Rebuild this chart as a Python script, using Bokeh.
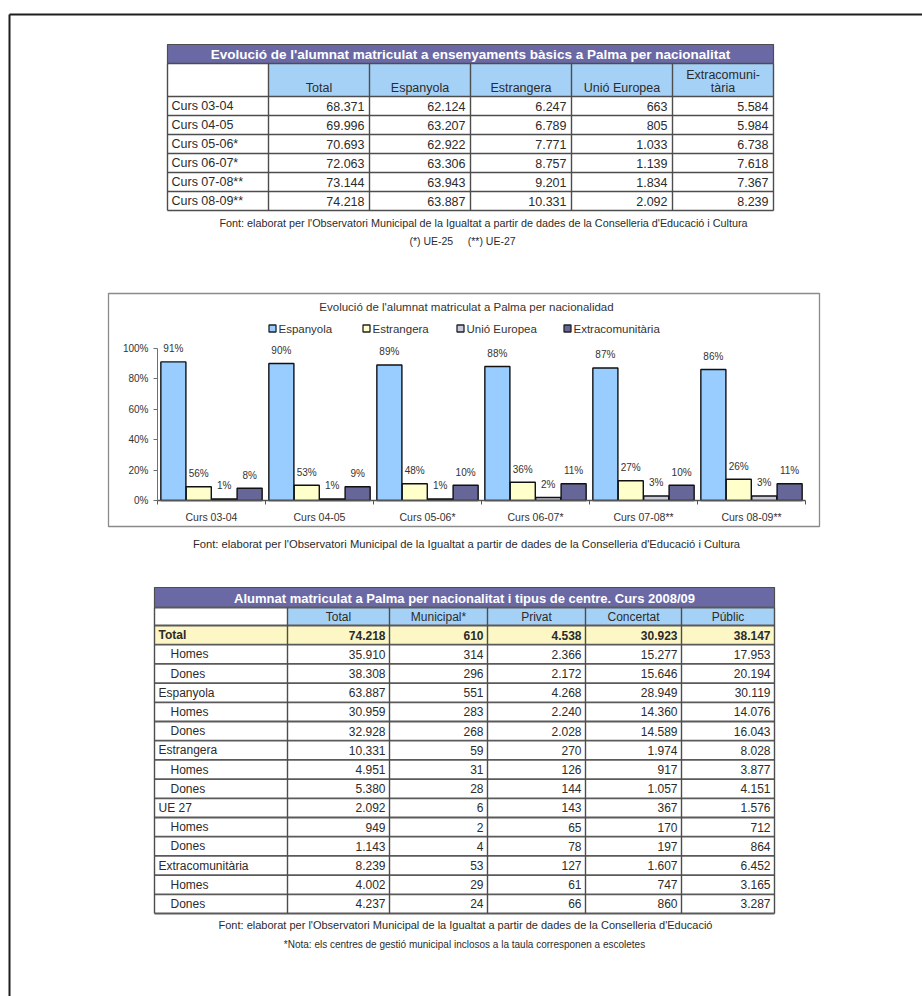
from bokeh.plotting import figure
from bokeh.models import Range1d, LinearAxis, FixedTicker, PrintfTickFormatter
from bokeh.core.properties import value
from bokeh.embed import file_html
from bokeh.resources import INLINE

# ---------------- data ----------------
t1_title = "Evolució de l'alumnat matriculat a ensenyaments bàsics a Palma per nacionalitat"
t1_head = ["Total", "Espanyola", "Estrangera", "Unió Europea", "Extracomunitària"]
t1_head_lines = [["Total"], ["Espanyola"], ["Estrangera"], ["Unió Europea"], ["Extracomuni-", "tària"]]
t1_rows = ["Curs 03-04", "Curs 04-05", "Curs 05-06*", "Curs 06-07*", "Curs 07-08**", "Curs 08-09**"]
t1_total = [68371, 69996, 70693, 72063, 73144, 74218]
t1_espanyola = [62124, 63207, 62922, 63306, 63943, 63887]
t1_estrangera = [6247, 6789, 7771, 8757, 9201, 10331]
t1_ue = [663, 805, 1033, 1139, 1834, 2092]
t1_extra = [5584, 5984, 6738, 7618, 7367, 8239]
t1_source = ("Font: elaborat per l'Observatori Municipal de la Igualtat a partir de dades "
             "de la Conselleria d'Educació i Cultura")
t1_note = "(*) UE-25\u00a0\u00a0\u00a0\u00a0 (**) UE-27"

chart_title = "Evolució de l'alumnat matriculat a Palma per nacionalidad"
chart_series = ["Espanyola", "Estrangera", "Unió Europea", "Extracomunitària"]
chart_cats = ["Curs 03-04", "Curs 04-05", "Curs 05-06*", "Curs 06-07*", "Curs 07-08**", "Curs 08-09**"]
pct_espanyola = [91, 90, 89, 88, 87, 86]
pct_estrangera = [9, 10, 11, 12, 13, 14]
pct_ue = [1, 1, 1, 2, 3, 3]
pct_extra = [8, 9, 10, 11, 10, 11]
lbl_espanyola = ["91%", "90%", "89%", "88%", "87%", "86%"]
lbl_estrangera = ["56%", "53%", "48%", "36%", "27%", "26%"]
lbl_ue = ["1%", "1%", "1%", "2%", "3%", "3%"]
lbl_extra = ["8%", "9%", "10%", "11%", "10%", "11%"]
y_ticks = [0, 20, 40, 60, 80, 100]
chart_source = t1_source

t2_title = "Alumnat matriculat a Palma per nacionalitat i tipus de centre. Curs 2008/09"
t2_head = ["Total", "Municipal*", "Privat", "Concertat", "Públic"]
t2_rows = ["Total", "Homes", "Dones", "Espanyola", "Homes", "Dones", "Estrangera", "Homes", "Dones",
           "UE 27", "Homes", "Dones", "Extracomunitària", "Homes", "Dones"]
t2_level = [0, 1, 1, 0, 1, 1, 0, 1, 1, 0, 1, 1, 0, 1, 1]
t2_total = [74218, 35910, 38308, 63887, 30959, 32928, 10331, 4951, 5380, 2092, 949, 1143, 8239, 4002, 4237]
t2_municipal = [610, 314, 296, 551, 283, 268, 59, 31, 28, 6, 2, 4, 53, 29, 24]
t2_privat = [4538, 2366, 2172, 4268, 2240, 2028, 270, 126, 144, 143, 65, 78, 127, 61, 66]
t2_concertat = [30923, 15277, 15646, 28949, 14360, 14589, 1974, 917, 1057, 367, 170, 197, 1607, 747, 860]
t2_public = [38147, 17953, 20194, 30119, 14076, 16043, 8028, 3877, 4151, 1576, 712, 864, 6452, 3165, 3287]
t2_source = ("Font: elaborat per l'Observatori Municipal de la Igualtat a partir de dades "
             "de la Conselleria d'Educació")
t2_note = "*Nota: els centres de gestió municipal inclosos a la taula corresponen a escoletes"


def fmt(v):
    return f"{v:,}".replace(",", ".")


# ---------------- styles / layout ----------------
FONT = "Liberation Sans"
PURPLE = "#6a69a6"
HEAD_BLUE = "#a6d1f6"
YELLOW = "#fcf7c5"
GRID = "#4d4d4d"
TXT = "#2b2b2b"
SERIES_COLORS = ["#99ccff", "#ffffcc", "#c9c9dd", "#666699"]

W, H = 922, 996
PX0, PX1, PY0, PY1 = 0, W, 0, H

p = figure(width=W, height=H, x_range=Range1d(PX0, PX1), y_range=Range1d(PY1, PY0),
           output_backend="svg", toolbar_location=None, x_axis_type=None, y_axis_type=None,
           min_border=0)
p.outline_line_color = None
p.background_fill_color = "white"
p.border_fill_color = "white"
if p.title is not None:
    p.title.visible = False


def txt(x, y, t, size, align="left", color=TXT, style="normal", **kw):
    p.text(x=x, y=y, text=t, text_font=value(FONT), text_font_size=size, text_align=align,
           text_baseline="middle", text_color=color, text_font_style=style, **kw)


# page frame
p.segment(x0=[9, 9], y0=[14, 14], x1=[9, PX1], y1=[PY1, 14], line_color="#1e1e1e", line_width=2)

# ---------------- table 1 ----------------
T1X = [167, 268, 369, 470, 571, 672, 773]
T1_TOP, T1_HEAD, T1_ROW0, T1_RH = 44, 63, 96, 19
n1 = len(t1_rows)
t1_bot = T1_ROW0 + n1 * T1_RH
p.quad(left=[T1X[0]], right=[T1X[-1]], top=[T1_TOP], bottom=[T1_HEAD], fill_color=PURPLE,
       line_color=GRID, line_width=1.2)
p.quad(left=T1X[1:-1], right=T1X[2:], top=[T1_HEAD] * 5, bottom=[T1_ROW0] * 5,
       fill_color=HEAD_BLUE, line_color=None)
hy = [T1_HEAD, T1_ROW0] + [T1_ROW0 + T1_RH * (i + 1) for i in range(n1)]
p.segment(x0=[T1X[0]] * len(hy), x1=[T1X[-1]] * len(hy), y0=hy, y1=hy, line_color=GRID, line_width=1.4)
p.segment(x0=T1X, x1=T1X, y0=[T1_HEAD] * len(T1X), y1=[t1_bot] * len(T1X), line_color=GRID, line_width=1.4)

cx1 = [(a + b) / 2 for a, b in zip(T1X[1:-1], T1X[2:])]
txt([(T1X[0] + T1X[-1]) / 2], [(T1_TOP + T1_HEAD) / 2 + 0.5], [t1_title], "13.5px", "center", "white", "bold")
for j, lines in enumerate(t1_head_lines):
    ys = [T1_ROW0 - 9 - 13 * (len(lines) - 1 - k) for k in range(len(lines))]
    txt([cx1[j]] * len(lines), ys, lines, "12.5px", "center")
rc1 = [T1_ROW0 + T1_RH * (i + 0.5) for i in range(n1)]
txt([T1X[0] + 4] * n1, rc1, t1_rows, "12.5px")
for j, col in enumerate([t1_total, t1_espanyola, t1_estrangera, t1_ue, t1_extra]):
    txt([T1X[j + 2] - 5] * n1, rc1, [fmt(v) for v in col], "12.5px", "right")
txt([483], [222], [t1_source], "10.8px", "center")
txt([462], [240], [t1_note], "10.5px", "center")

# ---------------- chart ----------------
BOX = (108, 819, 293, 526)
X0, GW = 157.0, 108.0          # left end of category axis, width of one category
Y0, Y100 = 500.0, 347.7        # screen rows of 0% and 100%
ppp = (Y0 - Y100) / 100.0
p.extra_y_ranges = {"pct": Range1d(-(PY1 - Y0) / ppp, (Y0 - PY0) / ppp)}
p.extra_x_ranges = {"grp": Range1d(-(X0 - PX0) / GW, (PX1 - X0) / GW)}

p.quad(left=[BOX[0]], right=[BOX[1]], top=[BOX[2]], bottom=[BOX[3]], fill_color="white",
       line_color="#8a8a8a", line_width=1.3)
txt([466], [306.5], [chart_title], "11.5px", "center", "#333333")

leg_x = [272, 366, 460, 567]
p.quad(left=[x - 3.5 for x in leg_x], right=[x + 3.5 for x in leg_x], top=[324.5] * 4, bottom=[331.5] * 4,
       fill_color=SERIES_COLORS, line_color="#222222", line_width=1.3)
txt([x + 6 for x in leg_x], [328] * 4, chart_series, "11.5px", "left", "#333333")

n_c = len(chart_cats)
dodge = [-0.353, -0.118, 0.118, 0.353]
for k, (vals, lbls) in enumerate([(pct_espanyola, lbl_espanyola), (pct_estrangera, lbl_estrangera),
                                  (pct_ue, lbl_ue), (pct_extra, lbl_extra)]):
    xs = [i + 0.5 + dodge[k] for i in range(n_c)]
    p.vbar(x=xs, width=0.232, bottom=0, top=vals, fill_color=SERIES_COLORS[k], line_color="#111111",
           line_width=1.4, x_range_name="grp", y_range_name="pct")
    txt(xs, vals, lbls, "10px", "center", "#333333", x_range_name="grp", y_range_name="pct", y_offset=-13)

yax = LinearAxis(y_range_name="pct", fixed_location=X0, bounds=(0, 100),
                 ticker=FixedTicker(ticks=y_ticks), formatter=PrintfTickFormatter(format="%d%%"))
yax.axis_line_color = "#707070"
yax.major_tick_line_color = "#707070"
yax.major_tick_out = 4
yax.major_tick_in = 0
yax.minor_tick_line_color = None
yax.major_label_standoff = 5
yax.major_label_text_font = FONT
yax.major_label_text_font_size = "10px"
yax.major_label_text_color = "#333333"
p.add_layout(yax, "left")

cax = LinearAxis(x_range_name="grp", y_range_name="pct", fixed_location=0, bounds=(0, n_c),
                 ticker=FixedTicker(ticks=[i + 0.5 for i in range(n_c)], minor_ticks=list(range(n_c + 1))),
                 major_label_overrides={i + 0.5: c for i, c in enumerate(chart_cats)})
cax.axis_line_color = "#555555"
cax.axis_line_width = 1.3
cax.major_tick_line_color = None
cax.major_tick_out = 0
cax.major_tick_in = 0
cax.minor_tick_line_color = "#555555"
cax.minor_tick_out = 4
cax.minor_tick_in = 0
cax.major_label_standoff = 6
cax.major_label_text_font = FONT
cax.major_label_text_font_size = "10.5px"
cax.major_label_text_color = "#333333"
p.add_layout(cax, "below")

txt([466], [543], [chart_source], "11.2px", "center")

# ---------------- table 2 ----------------
T2X = [154, 287, 389, 487, 585, 681, 774]
T2_TOP, T2_HEAD, T2_ROW0, T2_RH = 587, 607, 625, 19.2
n2 = len(t2_rows)
t2_bot = T2_ROW0 + n2 * T2_RH
p.quad(left=[T2X[0]], right=[T2X[-1]], top=[T2_TOP], bottom=[T2_HEAD], fill_color=PURPLE,
       line_color=GRID, line_width=1.2)
p.quad(left=T2X[1:-1], right=T2X[2:], top=[T2_HEAD] * 5, bottom=[T2_ROW0] * 5,
       fill_color=HEAD_BLUE, line_color=None)
p.quad(left=[T2X[0]], right=[T2X[-1]], top=[T2_ROW0], bottom=[T2_ROW0 + T2_RH],
       fill_color=YELLOW, line_color=None)
hy2 = [T2_HEAD, T2_ROW0] + [T2_ROW0 + T2_RH * (i + 1) for i in range(n2)]
p.segment(x0=[T2X[0]] * len(hy2), x1=[T2X[-1]] * len(hy2), y0=hy2, y1=hy2, line_color="#5a5a5a",
          line_width=1.8)
p.segment(x0=T2X, x1=T2X, y0=[T2_HEAD] * len(T2X), y1=[t2_bot] * len(T2X), line_color=GRID, line_width=1.4)

cx2 = [(a + b) / 2 for a, b in zip(T2X[1:-1], T2X[2:])]
txt([(T2X[0] + T2X[-1]) / 2], [(T2_TOP + T2_HEAD) / 2 + 0.5], [t2_title], "13px", "center", "white", "bold")
txt(cx2, [(T2_HEAD + T2_ROW0) / 2 + 0.5] * 5, t2_head, "12px", "center")
rc2 = [T2_ROW0 + T2_RH * (i + 0.5) for i in range(n2)]
for i in range(n2):
    style = "bold" if i == 0 else "normal"
    lx = T2X[0] + (4 if t2_level[i] == 0 else 16)
    txt([lx], [rc2[i]], [t2_rows[i]], "12px", "left", TXT, style)
    for j, col in enumerate([t2_total, t2_municipal, t2_privat, t2_concertat, t2_public]):
        txt([T2X[j + 2] - 4], [rc2[i]], [fmt(col[i])], "12px", "right", TXT, style)
txt([465], [924], [t2_source], "11px", "center")
txt([464], [944], [t2_note], "10px", "center")

open("out.html", "w").write(file_html(p, INLINE))
